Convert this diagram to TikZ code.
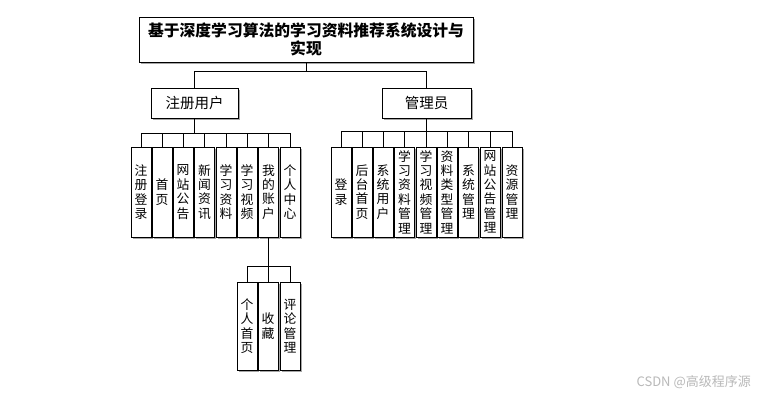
\documentclass[tikz,border=0pt]{standalone}
\usepackage{fontspec}
\setmainfont{Noto Sans CJK SC}
\usetikzlibrary{shadows}
\begin{document}
\begin{tikzpicture}[x=1pt,y=-1pt,
  box/.style={draw=black,line width=0.8pt,fill=white,inner sep=0pt,align=center,
    drop shadow={shadow xshift=1.6pt,shadow yshift=-1.6pt,fill=gray!70,opacity=1}},
  leafbox/.style={box,minimum width=20pt,minimum height=90pt,font=\fontsize{12.8}{14.4}\selectfont},
  midbox/.style={box,minimum height=30pt,font=\fontsize{14.5}{16}\selectfont},
  conn/.style={draw=black,line width=0.8pt}]
\useasboundingbox (0,0) rectangle (757,396);
\fill[white] (0,0) rectangle (757,396);
% title
\node[box,minimum width=334pt,minimum height=45pt,font=\fontsize{15.8}{18}\bfseries\selectfont] (title) at (306,39.5) {基于深度学习算法的学习资料推荐系统设计与\\实现};
\node[midbox,minimum width=87pt] (reg) at (194.5,103) {注册用户};
\node[midbox,minimum width=89pt] (adm) at (426.5,103) {管理员};
\coordinate (tb) at (306,71);
\draw[conn] (title.south) -- (tb) -| (reg.north);
\draw[conn] (tb) -| (adm.north);
% registered user leaves
\foreach \x/\t/\n in {141/注\\册\\登\\录/r1,162/首\\页/r2,183/网\\站\\公\\告/r3,204.5/新\\闻\\资\\讯/r4,226/学\\习\\资\\料/r5,247/学\\习\\视\\频/r6,268.5/我\\的\\账\\户/r7,290/个\\人\\中\\心/r8}{
  \node[leafbox] (\n) at (\x,192) {\t};
  \draw[conn] (\n.north) |- (reg.south |- 0,133) -- (reg.south);
}
% admin leaves
\foreach \x/\t/\n in {341/登\\录/a1,362/后\\台\\首\\页/a2,383/系\\统\\用\\户/a3,404.5/学\\习\\资\\料\\管\\理/a4,426/学\\习\\视\\频\\管\\理/a5,447/资\\料\\类\\型\\管\\理/a6,468.5/系\\统\\管\\理/a7,490/网\\站\\公\\告\\管\\理/a8,512/资\\源\\管\\理/a9}{
  \node[leafbox] (\n) at (\x,192) {\t};
  \draw[conn] (\n.north) |- (adm.south |- 0,131) -- (adm.south);
}
% sub leaves of 我的账户
\foreach \x/\t/\n in {247/个\\人\\首\\页/s1,268/收\\藏/s2,290/评\\论\\管\\理/s3}{
  \node[leafbox,minimum height=88pt] (\n) at (\x,326) {\t};
  \draw[conn] (\n.north) |- (r7.south |- 0,266) -- (r7.south);
}
% watermark
\node[text=gray!55,font=\fontsize{13}{15}\selectfont,anchor=east,inner sep=0pt] (wm) at (751,382) {CSDN @高级程序源};
\end{tikzpicture}
\end{document}
